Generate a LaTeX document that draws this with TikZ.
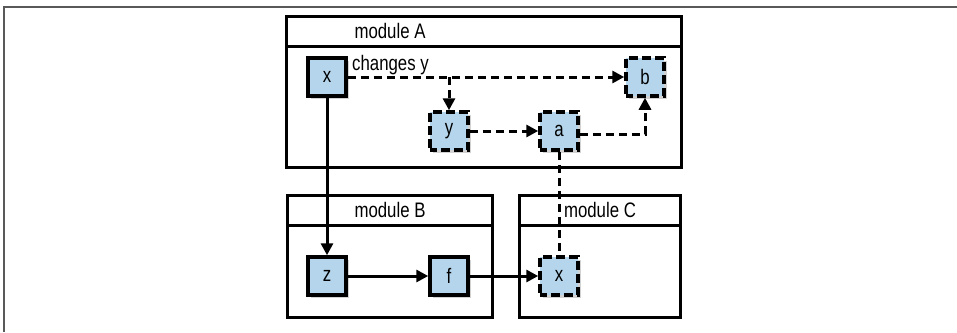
\documentclass[tikz,border=0pt]{standalone}
\usepackage{fontspec}
\setmainfont[FakeStretch=0.8]{Liberation Sans}
\usetikzlibrary{arrows.meta,shadows,calc}
\definecolor{nodeblue}{HTML}{B4D5EB}
\begin{document}
\begin{tikzpicture}[x=1pt,y=-1pt,
  font=\fontsize{21}{23}\selectfont,
  modbox/.style={draw=black,line width=3pt,fill=white},
  item/.style={draw=black,line width=3.5pt,fill=nodeblue,minimum size=38pt,inner sep=0pt,
    drop shadow={opacity=0.35,shadow xshift=3pt,shadow yshift=-3pt}},
  ditem/.style={item,dash pattern=on 9pt off 4pt,dash phase=2pt},
  conn/.style={line width=3pt,-{Triangle[length=12pt,width=12pt]}},
  dconn/.style={conn,dash pattern=on 8pt off 5pt},
  dline/.style={line width=3pt,dash pattern=on 8pt off 5pt},
  label/.style={anchor=base,inner sep=0pt}
]
\useasboundingbox (0,0) rectangle (957,332);
% outer frame
\draw[gray!70!black,line width=1.5pt] (4,332) -- (4,7) -- (957,7);
% modules
\draw[modbox] (286,16) rectangle (681,167);
\draw[modbox] (286,46) -- (681,46);
\node[label] (labA) at (390,38) {module A};
\draw[modbox] (287,195) rectangle (492,317);
\draw[modbox] (287,225) -- (492,225);
\node[label] (labB) at (390,217) {module B};
\draw[modbox] (519,195) rectangle (680,317);
\draw[modbox] (519,225) -- (680,225);
\node[label] (labC) at (600,217) {module C};
% nodes
\node[item] (x) at (327,77) {x};
\node[ditem] (b) at (645,77) {b};
\node[ditem] (y) at (449,131) {y};
\node[ditem] (a) at (559,131) {a};
\node[item] (z) at (327,276) {z};
\node[item] (f) at (449,276) {f};
\node[ditem] (xc) at (559,276) {x};
\node[anchor=base west,inner sep=0pt] (chg) at (352,70) {changes y};
\coordinate (br) at (449,77);
% connectors
\draw[conn] (x) -- (z);
\draw[conn] (z) -- (f);
\draw[conn] (f) -- (xc);
\draw[dconn] (x) -- (b);
\draw[dconn] (br) -- (y);
\draw[dconn] (y) -- (a);
\draw[dconn] ([yshift=-3pt]a.east) -| (b.south);
\draw[dline] (a) -- (xc);
\end{tikzpicture}
\end{document}
